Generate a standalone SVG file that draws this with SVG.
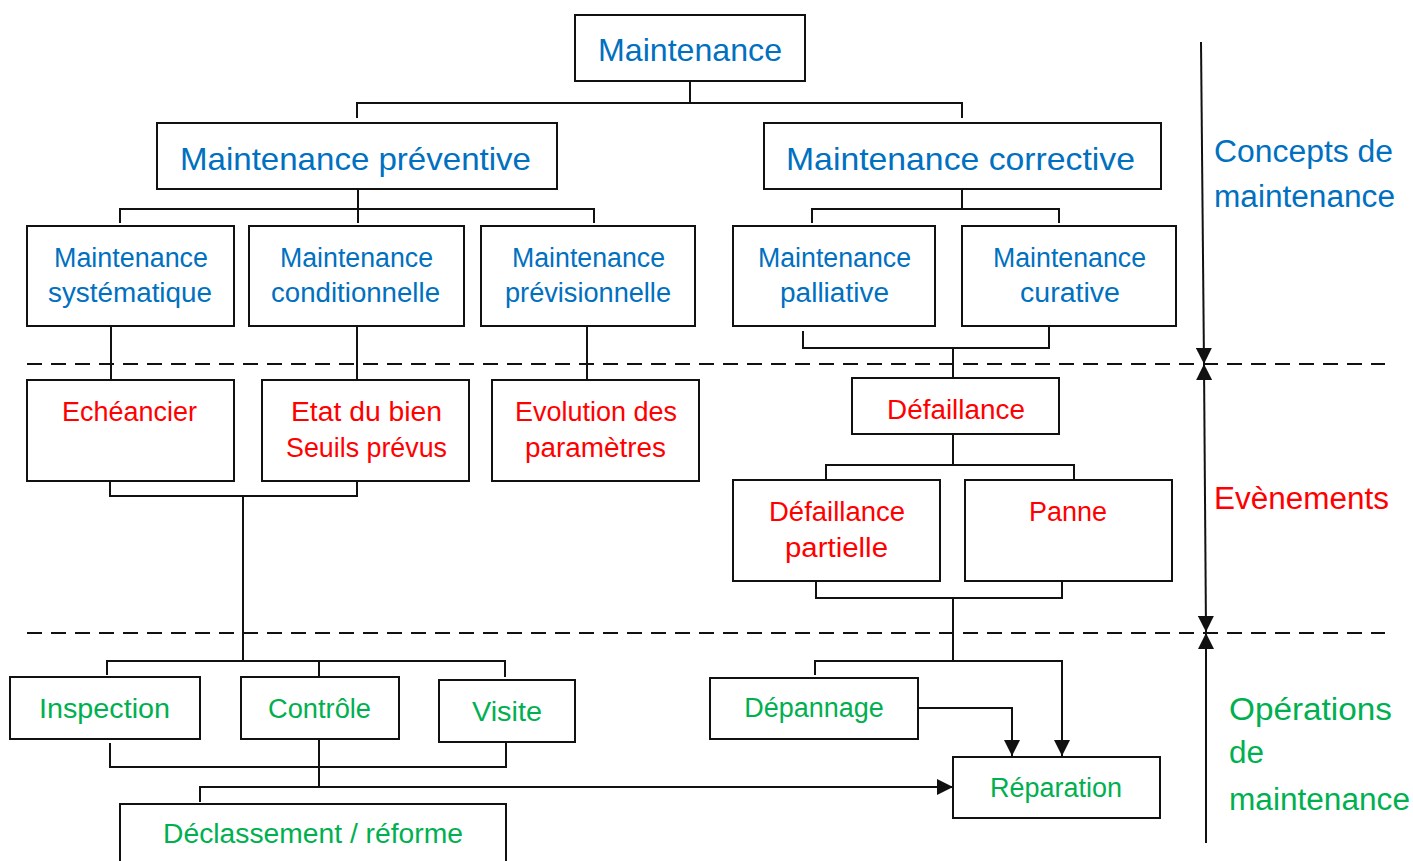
<svg xmlns="http://www.w3.org/2000/svg" width="1413" height="861" viewBox="0 0 1413 861">
<style>
.box{fill:#fff;stroke:#111;stroke-width:2}
.ln{fill:none;stroke:#111;stroke-width:2}
.dash{fill:none;stroke:#111;stroke-width:2;stroke-dasharray:15 9}
text{font-family:"Liberation Sans",Arial,sans-serif}
.b{fill:#0070C0}.r{fill:#FF0000}.g{fill:#00B050}
.t1{font-size:32px}.t2{font-size:27px}.t3{font-size:31px}
.mid{text-anchor:middle}
</style>
<defs>
<marker id="ah" viewBox="0 0 16 16" refX="16" refY="8" markerWidth="16" markerHeight="16" markerUnits="userSpaceOnUse" orient="auto-start-reverse">
<path d="M0,0 L16,8 L0,16 Z" fill="#111"/>
</marker>
</defs>
<rect width="1413" height="861" fill="#fff"/>
<g id="connectors">
<path class="ln" d="M690,81 V103 M357,118 V103 H962 V118"/>
<path class="ln" d="M358,189 V223 M120,223 V209 H594 V223"/>
<path class="ln" d="M962,189 V209 M812,223 V209 H1059 V223"/>
<path class="ln" d="M111,326 V380 M357,326 V380 M587,326 V380"/>
<path class="ln" d="M803,331 V348 H1049 V326 M953,348 V378"/>
<path class="ln" d="M953,434 V465 M826,479 V465 H1074 V479"/>
<path class="ln" d="M816,582 V598 H1062 V582 M953,598 V661"/>
<path class="ln" d="M110,481 V496 H357 V481 M243,496 V661"/>
<path class="ln" d="M107,675 V661 H505 V677 M319,661 V677"/>
<path class="ln" d="M110,743 V767 H506 V742 M319,739 V787"/>
<path class="ln" d="M200,802 V787 H953" marker-end="url(#ah)"/>
<path class="ln" d="M815,675 V661 H1062 V756" marker-end="url(#ah)"/>
<path class="ln" d="M918,708 H1012 V756" marker-end="url(#ah)"/>
<path class="dash" d="M27,364 H1385 M27,633 H1385"/>
<path class="ln" d="M1201,42 L1204,364" marker-end="url(#ah)"/>
<path class="ln" d="M1204,364 L1206,632" marker-start="url(#ah)" marker-end="url(#ah)"/>
<path class="ln" d="M1206,843 L1206,633" marker-end="url(#ah)"/>
</g>
<g id="n-maintenance"><rect class="box" x="575" y="15" width="230" height="66"/><text class="t1 b" x="598" y="61" textLength="184" lengthAdjust="spacingAndGlyphs">Maintenance</text></g>
<g id="n-preventive"><rect class="box" x="157" y="123" width="400" height="66"/><text class="t1 b" x="180" y="170" textLength="351" lengthAdjust="spacingAndGlyphs">Maintenance préventive</text></g>
<g id="n-corrective"><rect class="box" x="764" y="123" width="397" height="66"/><text class="t1 b" x="786" y="170" textLength="349" lengthAdjust="spacingAndGlyphs">Maintenance corrective</text></g>
<g id="n-systematique"><rect class="box" x="27" y="226" width="207" height="100"/><text class="t2 b" x="54" y="267" textLength="154" lengthAdjust="spacingAndGlyphs">Maintenance</text><text class="t2 b" x="48" y="302" textLength="164" lengthAdjust="spacingAndGlyphs">systématique</text></g>
<g id="n-conditionnelle"><rect class="box" x="249" y="226" width="215" height="100"/><text class="t2 b" x="280" y="267" textLength="153" lengthAdjust="spacingAndGlyphs">Maintenance</text><text class="t2 b" x="271" y="302" textLength="169" lengthAdjust="spacingAndGlyphs">conditionnelle</text></g>
<g id="n-previsionnelle"><rect class="box" x="481" y="226" width="214" height="100"/><text class="t2 b" x="512" y="267" textLength="153" lengthAdjust="spacingAndGlyphs">Maintenance</text><text class="t2 b" x="505" y="302" textLength="166" lengthAdjust="spacingAndGlyphs">prévisionnelle</text></g>
<g id="n-palliative"><rect class="box" x="733" y="226" width="202" height="100"/><text class="t2 b" x="758" y="267" textLength="153" lengthAdjust="spacingAndGlyphs">Maintenance</text><text class="t2 b" x="780" y="302" textLength="109" lengthAdjust="spacingAndGlyphs">palliative</text></g>
<g id="n-curative"><rect class="box" x="962" y="226" width="214" height="100"/><text class="t2 b" x="993" y="267" textLength="153" lengthAdjust="spacingAndGlyphs">Maintenance</text><text class="t2 b" x="1020" y="302" textLength="100" lengthAdjust="spacingAndGlyphs">curative</text></g>
<g id="n-echeancier"><rect class="box" x="27" y="380" width="207" height="101"/><text class="t2 r" x="62" y="421" textLength="135" lengthAdjust="spacingAndGlyphs">Echéancier</text></g>
<g id="n-etat"><rect class="box" x="262" y="380" width="207" height="101"/><text class="t2 r" x="291" y="421" textLength="151" lengthAdjust="spacingAndGlyphs">Etat du bien</text><text class="t2 r" x="286" y="457" textLength="161" lengthAdjust="spacingAndGlyphs">Seuils prévus</text></g>
<g id="n-evolution"><rect class="box" x="492" y="380" width="207" height="101"/><text class="t2 r" x="515" y="421" textLength="162" lengthAdjust="spacingAndGlyphs">Evolution des</text><text class="t2 r" x="525" y="457" textLength="141" lengthAdjust="spacingAndGlyphs">paramètres</text></g>
<g id="n-defaillance"><rect class="box" x="852" y="378" width="207" height="56"/><text class="t2 r" x="887" y="419" textLength="138" lengthAdjust="spacingAndGlyphs">Défaillance</text></g>
<g id="n-partielle"><rect class="box" x="733" y="480" width="207" height="101"/><text class="t2 r" x="769" y="521" textLength="136" lengthAdjust="spacingAndGlyphs">Défaillance</text><text class="t2 r" x="785" y="557" textLength="103" lengthAdjust="spacingAndGlyphs">partielle</text></g>
<g id="n-panne"><rect class="box" x="965" y="480" width="207" height="101"/><text class="t2 r mid" x="1068" y="521">Panne</text></g>
<g id="n-inspection"><rect class="box" x="10" y="677" width="190" height="62"/><text class="t2 g" x="39" y="718" textLength="131" lengthAdjust="spacingAndGlyphs">Inspection</text></g>
<g id="n-controle"><rect class="box" x="241" y="677" width="158" height="62"/><text class="t2 g" x="268" y="718" textLength="103" lengthAdjust="spacingAndGlyphs">Contrôle</text></g>
<g id="n-visite"><rect class="box" x="439" y="680" width="136" height="62"/><text class="t2 g" x="472" y="721" textLength="70" lengthAdjust="spacingAndGlyphs">Visite</text></g>
<g id="n-depannage"><rect class="box" x="710" y="678" width="208" height="61"/><text class="t2 g mid" x="814" y="717">Dépannage</text></g>
<g id="n-reparation"><rect class="box" x="953" y="757" width="207" height="61"/><text class="t2 g" x="990" y="797" textLength="132" lengthAdjust="spacingAndGlyphs">Réparation</text></g>
<g id="n-declassement"><rect class="box" x="120" y="804" width="386" height="70"/><text class="t2 g" x="163" y="843" textLength="300" lengthAdjust="spacingAndGlyphs">Déclassement / réforme</text></g>
<g id="l-concepts"><text class="t3 b" x="1214" y="162" textLength="179" lengthAdjust="spacingAndGlyphs">Concepts de</text><text class="t3 b" x="1214" y="207" textLength="181" lengthAdjust="spacingAndGlyphs">maintenance</text></g>
<g id="l-evenements"><text class="t3 r" x="1214" y="509" textLength="175" lengthAdjust="spacingAndGlyphs">Evènements</text></g>
<g id="l-operations"><text class="t3 g" x="1229" y="720" textLength="163" lengthAdjust="spacingAndGlyphs">Opérations</text><text class="t3 g" x="1229" y="763" textLength="35" lengthAdjust="spacingAndGlyphs">de</text><text class="t3 g" x="1229" y="810" textLength="181" lengthAdjust="spacingAndGlyphs">maintenance</text></g>
</svg>
